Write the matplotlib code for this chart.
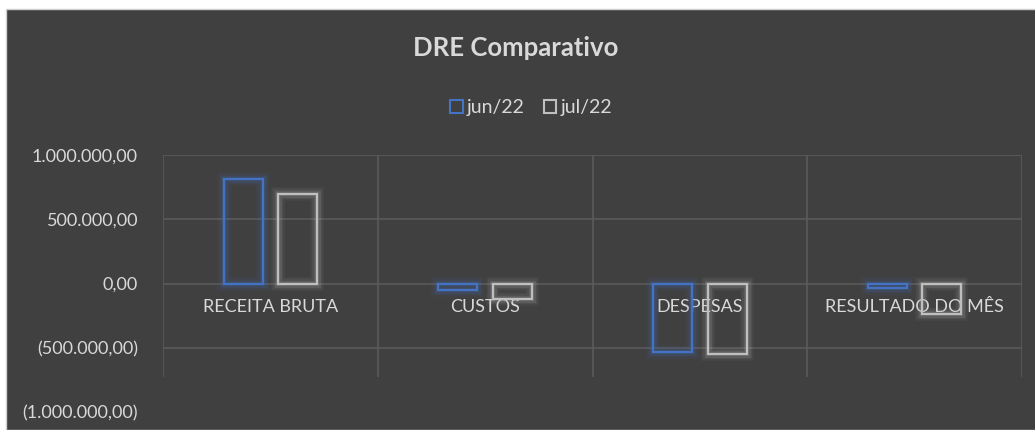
import numpy as np
import matplotlib
matplotlib.use("Agg")
import matplotlib.pyplot as plt
from matplotlib.patches import Rectangle
from matplotlib.ticker import FuncFormatter, FixedLocator
import matplotlib.patheffects as pe

categories = ["RECEITA BRUTA", "CUSTOS", "DESPESAS", "RESULTADO DO MÊS"]
series_names = ["jun/22", "jul/22"]
jun_values = [810000, -50000, -532000, -33000]
jul_values = [695000, -120000, -545000, -237000]
y_ticks = [1000000, 500000, 0, -500000, -1000000]

BG = "#404040"
TXT = "#D9D9D9"
GRID = "#5A5A5A"
BLUE = "#4472C4"
GRAY = "#BFBFBF"
FONT = "Lato"

W, H = 1035, 430
fig = plt.figure(figsize=(W / 100, H / 100), dpi=100, facecolor="white")
fig.patches.append(Rectangle((6 / W, 0), 1, (H - 9) / H, transform=fig.transFigure,
                             facecolor=BG, edgecolor="#CFCFCF", linewidth=1, zorder=-10))

ax = fig.add_axes([163 / W, 18 / H, (1022 - 163) / W, (412 - 155) / H])
ax.set_facecolor("none")
ax.set_xlim(-0.5, len(categories) - 0.5)
ax.set_ylim(-1000000, 1000000)

# gridlines
for v in y_ticks[:-1]:
    ax.axhline(v, color=GRID, lw=1.2, zorder=0)
ax.vlines(np.arange(len(categories) + 1) - 0.5, -730000, 1000000, color=GRID, lw=1.2, zorder=0)

x = np.arange(len(categories))
off = 0.127
bw = 0.182
for vals, col, dx in [(jun_values, BLUE, -off), (jul_values, GRAY, off)]:
    bars = ax.bar(x + dx, vals, width=bw, facecolor="none", edgecolor=col, linewidth=1.5, zorder=3)
    for b in bars:
        b.set_path_effects([
            pe.Stroke(linewidth=10, foreground=col, alpha=0.05),
            pe.Stroke(linewidth=7.5, foreground=col, alpha=0.08),
            pe.Stroke(linewidth=5, foreground=col, alpha=0.12),
            pe.Stroke(linewidth=3, foreground=col, alpha=0.18),
            pe.Normal(),
        ])

for s in ax.spines.values():
    s.set_visible(False)

ax.spines["bottom"].set_position(("data", 0))
ax.set_xticks(x)
ax.set_xticklabels(categories, fontsize=13, color=TXT, fontfamily=FONT)
ax.tick_params(axis="x", length=0, pad=11)


def br_fmt(v, pos=None):
    s = f"{abs(v):,.2f}".replace(",", "X").replace(".", ",").replace("X", ".")
    return f"({s})" if v < 0 else s


ax.yaxis.set_major_locator(FixedLocator(y_ticks))
ax.yaxis.set_major_formatter(FuncFormatter(br_fmt))
ax.tick_params(axis="y", length=0, pad=18, labelsize=13, labelcolor=TXT)
for lab in ax.get_yticklabels():
    lab.set_fontfamily(FONT)

fig.text(516 / W, 1 - 48 / H, "DRE Comparativo", ha="center", va="center",
         fontsize=18.5, fontweight="bold", color=TXT, fontfamily=FONT)

handles = [Rectangle((0, 0), 1, 1, facecolor="none", edgecolor=c, linewidth=1.5) for c in (BLUE, GRAY)]
leg = fig.legend(handles, series_names, loc="center", bbox_to_anchor=(531 / W, 1 - 108 / H),
                 ncol=2, frameon=False, handlelength=0.65, handleheight=0.65, handletextpad=0.2,
                 columnspacing=1.0, prop={"family": FONT, "size": 14})
for t in leg.get_texts():
    t.set_color(TXT)

fig.savefig("out.png", dpi=100, facecolor="white")
